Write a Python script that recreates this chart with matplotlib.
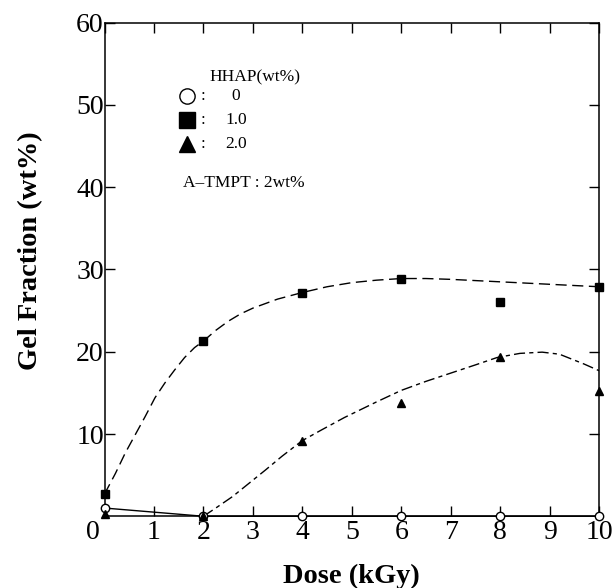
import numpy as np
import matplotlib
matplotlib.use("Agg")
import matplotlib.pyplot as plt
import matplotlib.transforms as mtransforms

plt.rcParams['font.family'] = ['Liberation Serif', 'DejaVu Serif']

# measured points
dose = [0, 2, 4, 6, 8, 10]
gel_0 = [1.0, 0.0, 0.0, 0.0, 0.0, 0.0]      # HHAP 0 wt%
gel_1 = [2.7, 21.3, 27.2, 28.9, 26.0, 27.9]  # HHAP 1.0 wt%
gel_2 = [0.3, 0.0, 9.2, 13.8, 19.3, 15.2]    # HHAP 2.0 wt%

# hand-drawn fit curves
fit1_x = [0, 0.22, 0.42, 0.62, 0.82, 1.02, 1.22, 1.42, 1.62, 1.82, 2.0, 2.25, 2.5, 2.75,
          3.0, 3.5, 4.0, 4.5, 5.0, 5.5, 6.0, 6.5, 7.0, 8.0, 9.0, 10.0]
fit1_y = [2.7, 5.2, 7.7, 9.9, 12.1, 14.4, 16.2, 17.8, 19.3, 20.5, 21.3, 22.6, 23.7, 24.6,
          25.3, 26.4, 27.2, 27.9, 28.4, 28.7, 28.9, 28.9, 28.8, 28.5, 28.2, 27.9]
fit2_x = [2.0, 2.25, 2.59, 2.92, 3.25, 3.59, 4.0, 4.39, 4.85, 5.5, 6.0, 6.5, 7.0, 7.5,
          7.94, 8.4, 8.85, 9.2, 9.45, 9.7, 10.0]
fit2_y = [0.0, 1.0, 2.4, 4.0, 5.6, 7.3, 9.2, 10.5, 12.0, 13.9, 15.3, 16.4, 17.4, 18.4,
          19.3, 19.8, 19.95, 19.7, 19.1, 18.5, 17.7]

legend_values = ['0', '1.0', '2.0']

fig = plt.figure(figsize=(6.13, 5.88), dpi=100)
ax = fig.add_axes([0.1705, 0.122, 0.8067, 0.8394])

ax.plot(fit1_x, fit1_y, color='black', lw=1.0, dashes=(8, 4))
ax.plot(fit2_x, fit2_y, color='black', lw=1.0, dashes=(8, 3, 3, 3))
ax.plot(dose, gel_0, color='black', lw=1.0, clip_on=False)

ax.plot(dose, gel_0, 'o', mfc='white', mec='black', mew=1.0, ms=6, clip_on=False, zorder=5)
ax.plot(dose, gel_1, 's', color='black', ms=5.5, clip_on=False, zorder=5)
ax.plot(dose, gel_2, '^', color='black', ms=5.5, clip_on=False, zorder=5)

ax.set_xlim(0, 10)
ax.set_ylim(0, 60)
ax.set_xticks(range(0, 11))
ax.set_yticks([10, 20, 30, 40, 50, 60])
ax.tick_params(axis='both', direction='in', length=7.5, width=1.0, labelsize=20,
               top=True, right=True)
ax.tick_params(axis='x', pad=3)
ax.tick_params(axis='y', pad=0.5)
for s in ax.spines.values():
    s.set_linewidth(1.1)

# the "0" label sits a bit left of the origin
lbl0 = ax.get_xticklabels()[0]
lbl0.set_transform(lbl0.get_transform() + mtransforms.ScaledTranslation(-12 / 100, 0, fig.dpi_scale_trans))

ax.set_xlabel('Dose (kGy)', fontsize=20.5, fontweight='bold')
ax.xaxis.set_label_coords(0.5, -0.096)
ax.set_ylabel('Gel Fraction (wt%)', fontsize=20.5, fontweight='bold')
ax.yaxis.set_label_coords(-0.124, 0.538)

# legend drawn by hand like the original
ax.text(0.213, 0.889, 'HHAP(wt%)', transform=ax.transAxes, fontsize=12.5, va='center', ha='left')
sym = [('o', 'white'), ('s', 'black'), ('^', 'black')]
ys = [0.852, 0.802, 0.754]
for (m, fc), yy, val in zip(sym, ys, legend_values):
    ax.plot([0.167], [yy], m, mfc=fc, mec='black', mew=1.0, ms=11, transform=ax.transAxes)
    ax.text(0.199, yy, ':', transform=ax.transAxes, fontsize=12.5, va='center', ha='center')
    ax.text(0.266, yy, val, transform=ax.transAxes, fontsize=12.5, va='center', ha='center')
ax.text(0.159, 0.676, 'A\u2013TMPT : 2wt%', transform=ax.transAxes, fontsize=12.5, va='center', ha='left')

fig.savefig('out.png', dpi=100)
